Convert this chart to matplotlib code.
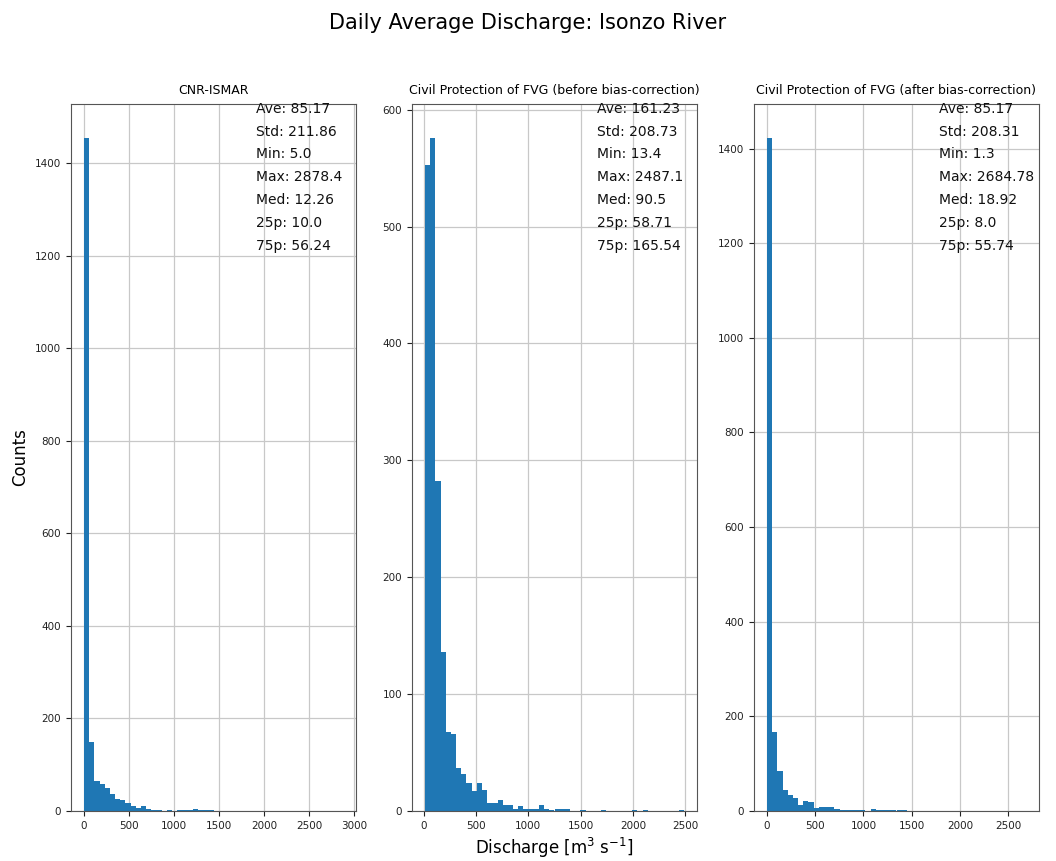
import numpy as np
import matplotlib
matplotlib.use("Agg")
import matplotlib.pyplot as plt

# Panel titles
titles = [
    "CNR-ISMAR",
    "Civil Protection of FVG (before bias-correction)",
    "Civil Protection of FVG (after bias-correction)",
]

# Counts per bin (50 equal-width bins between min and max of each series)
counts_ismar = [1455, 150, 64, 58, 50, 36, 26, 24, 18, 11,
                7, 11, 4, 2, 2, 1, 2, 1, 2, 2,
                3, 4, 3, 3, 2, 1, 1, 0, 1, 0,
                0, 0, 0, 0, 1, 0, 0, 0, 0, 0,
                0, 0, 0, 1, 0, 0, 0, 0, 0, 1]
counts_fvg_raw = [553, 576, 282, 136, 68, 66, 37, 32, 24, 17,
                  24, 18, 7, 7, 9, 5, 5, 2, 4, 2,
                  2, 2, 5, 2, 1, 2, 2, 2, 0, 0,
                  1, 0, 0, 0, 1, 0, 0, 0, 0, 0,
                  1, 0, 1, 0, 0, 0, 0, 0, 0, 1]
counts_fvg_corr = [1423, 166, 84, 45, 34, 27, 13, 22, 18, 6,
                   9, 9, 8, 4, 3, 2, 2, 3, 2, 1,
                   4, 3, 2, 2, 2, 3, 2, 1, 0, 0,
                   0, 0, 0, 0, 0, 1, 0, 1, 0, 0,
                   0, 1, 0, 1, 0, 0, 0, 0, 0, 1]

# Summary statistics [Ave, Std, Min, Max, Med, 25p, 75p]
stats_ismar = ["85.17", "211.86", "5.0", "2878.4", "12.26", "10.0", "56.24"]
stats_fvg_raw = ["161.23", "208.73", "13.4", "2487.1", "90.5", "58.71", "165.54"]
stats_fvg_corr = ["85.17", "208.31", "1.3", "2684.78", "18.92", "8.0", "55.74"]
stat_names = ["Ave", "Std", "Min", "Max", "Med", "25p", "75p"]

all_counts = [counts_ismar, counts_fvg_raw, counts_fvg_corr]
all_stats = [stats_ismar, stats_fvg_raw, stats_fvg_corr]

fig = plt.figure(figsize=(10.56, 8.61), dpi=100)
lefts = [71, 412, 754]
width_px = 285
top_px, bottom_px = 104, 811
W, H = 1056, 861

for i in range(3):
    ax = fig.add_axes([lefts[i] / W, 1 - bottom_px / H,
                       width_px / W, (bottom_px - top_px) / H])
    vmin = float(all_stats[i][2])
    vmax = float(all_stats[i][3])
    edges = np.linspace(vmin, vmax, len(all_counts[i]) + 1)
    ax.hist(edges[:-1], bins=edges, weights=all_counts[i], color="#1f77b4")
    ax.grid(True, color="#c8c8c8", linewidth=0.9)
    ax.set_axisbelow(True)
    for sp in ax.spines.values():
        sp.set_color("#555555")
    ax.tick_params(labelsize=7.5, colors="#222222")
    ax.set_title(titles[i], fontsize=9, pad=7)
    txt = "\n".join(f"{n}: {v}" for n, v in zip(stat_names, all_stats[i]))
    ax.text(0.65, 1.003, txt, transform=ax.transAxes, va="top", ha="left",
            fontsize=10, linespacing=1.8, color="#111111")
    if i == 0:
        ax.set_ylabel("Counts", fontsize=12)
    if i == 1:
        ax.set_xlabel(r"Discharge [m$^3$ s$^{-1}$]", fontsize=12)

fig.suptitle("Daily Average Discharge: Isonzo River", fontsize=15, y=0.985)
fig.savefig("out.png", dpi=100)
